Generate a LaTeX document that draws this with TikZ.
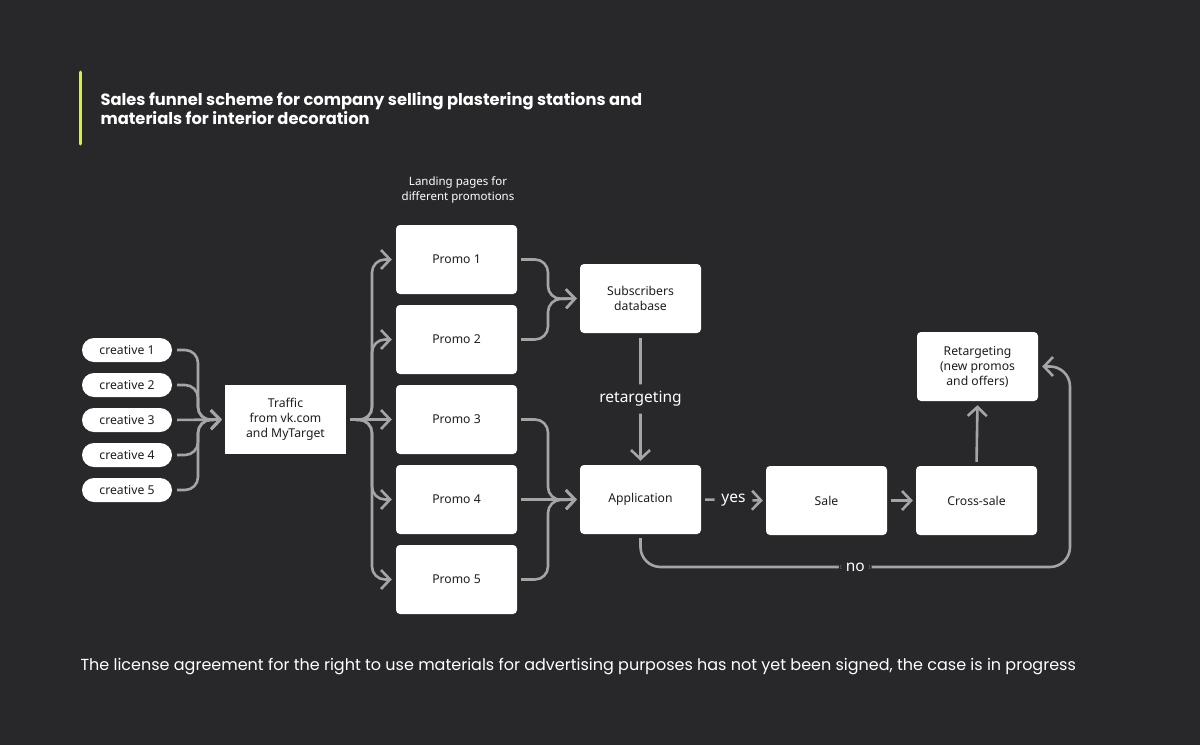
\documentclass[tikz,border=0pt]{standalone}
\usepackage{fontspec}
\setmainfont{Noto Sans}
\newfontfamily\titlefont{Poppins}
\usetikzlibrary{arrows.meta}
\definecolor{bg}{RGB}{40,40,43}
\definecolor{ln}{RGB}{165,165,165}
\definecolor{accent}{RGB}{214,240,60}
\definecolor{ink}{RGB}{30,30,30}
\begin{document}
\begin{tikzpicture}[x=1pt,y=-1pt,
  box/.style={fill=white, rounded corners=4pt, minimum width=121pt, minimum height=69pt,
    inner sep=0pt, align=center, text=ink, font=\fontsize{12.2}{15}\selectfont},
  pill/.style={fill=white, rounded corners=12pt, minimum width=90pt, minimum height=24pt,
    inner sep=0pt, text=ink, font=\fontsize{12.2}{14}\selectfont},
  conn/.style={draw=ln, line width=2.6pt, rounded corners=13pt,
    -{Straight Barb[length=9pt,width=19pt]}},
  lbl/.style={fill=bg, text=white, inner sep=7pt, font=\fontsize{15.5}{18}\selectfont},
]
\fill[bg] (0,0) rectangle (1200,745);
\useasboundingbox (0,0) rectangle (1200,745);

% title
\draw[accent, line width=3pt, line cap=round] (80,72) -- (80,144);
\node[anchor=base west, align=left, text=white, font=\titlefont\bfseries\fontsize{16.3}{19}\selectfont]
  (title) at (97,124) {Sales funnel scheme for company selling plastering stations and\\materials for interior decoration};

% landing label
\node[align=center, text=white, font=\fontsize{11.5}{15}\selectfont] (land) at (458,189.5)
  {Landing pages for\\different promotions};

% creatives
\foreach \i in {1,...,5} {
  \node[pill] (c\i) at (127,{350+35*(\i-1)}) {creative \i};
}
\node[box, rounded corners=0pt] (tr) at (285.5,419.5) {Traffic\\from vk.com\\and MyTarget};
\foreach \i in {1,...,5} {
  \node[box] (p\i) at (456.5,{259.5+80*(\i-1)}) {Promo \i};
}
\node[box] (sub) at (640.5,298.5) {Subscribers\\database};
\node[box] (app) at (640.5,499.5) {Application};
\node[box] (sale) at (826.5,500.5) {Sale};
\node[box] (cross) at (976.5,500.5) {Cross-sale};
\node[box] (ret) at (977.5,366.5) {Retargeting\\(new promos\\and offers)};

% junction coordinates
\coordinate (jl) at (198,420);
\coordinate (jr) at (372,420);
\coordinate (js) at (548,299);
\coordinate (ja) at (548,500);
\coordinate (nb) at (1070,567);

% creatives -> traffic
\foreach \i in {1,2,4,5} {
  \draw[conn, shorten <=5pt, shorten >=3pt] (c\i.east) -| (jl) -- (tr.west);
}
\draw[conn, shorten <=5pt, shorten >=3pt] (c3.east) -- (tr.west);

% traffic -> promos
\foreach \i in {1,2,4,5} {
  \draw[conn, shorten <=4pt, shorten >=4pt] (tr.east) -- (jr) |- (p\i.west);
}
\draw[conn, shorten <=4pt, shorten >=4pt] (tr.east) -- (p3.west);

% promos -> subscribers / application
\foreach \i in {1,2} {
  \draw[conn, shorten <=4pt, shorten >=3pt] (p\i.east) -| (js) -- (sub.west);
}
\foreach \i in {3,5} {
  \draw[conn, shorten <=4pt, shorten >=3pt] (p\i.east) -| (ja) -- (app.west);
}
\draw[conn, shorten <=4pt, shorten >=3pt] (p4.east) -- (app.west);

% right part
\draw[conn, shorten <=5pt, shorten >=4pt] (sub.south) -- node[lbl] {retargeting} (app.north);
\draw[conn, shorten <=4pt, shorten >=3pt] (app.east) -- node[lbl] {yes} (sale.west);
\draw[conn, shorten <=4pt, shorten >=3pt] (sale.east) -- (cross.west);
\draw[conn, shorten <=4pt, shorten >=4pt] (cross.north) -- (ret.south);
\draw[conn, rounded corners=20pt, shorten <=4pt, shorten >=4pt] (app.south) |- node[lbl, pos=0.75] {no} (nb) |- (ret.east);

% footer
\node[anchor=base west, text=white, font=\titlefont\fontsize{16}{18}\selectfont] (foot) at (77,670)
  {The license agreement for the right to use materials for advertising purposes has not yet been signed, the case is in progress};
\end{tikzpicture}
\end{document}
